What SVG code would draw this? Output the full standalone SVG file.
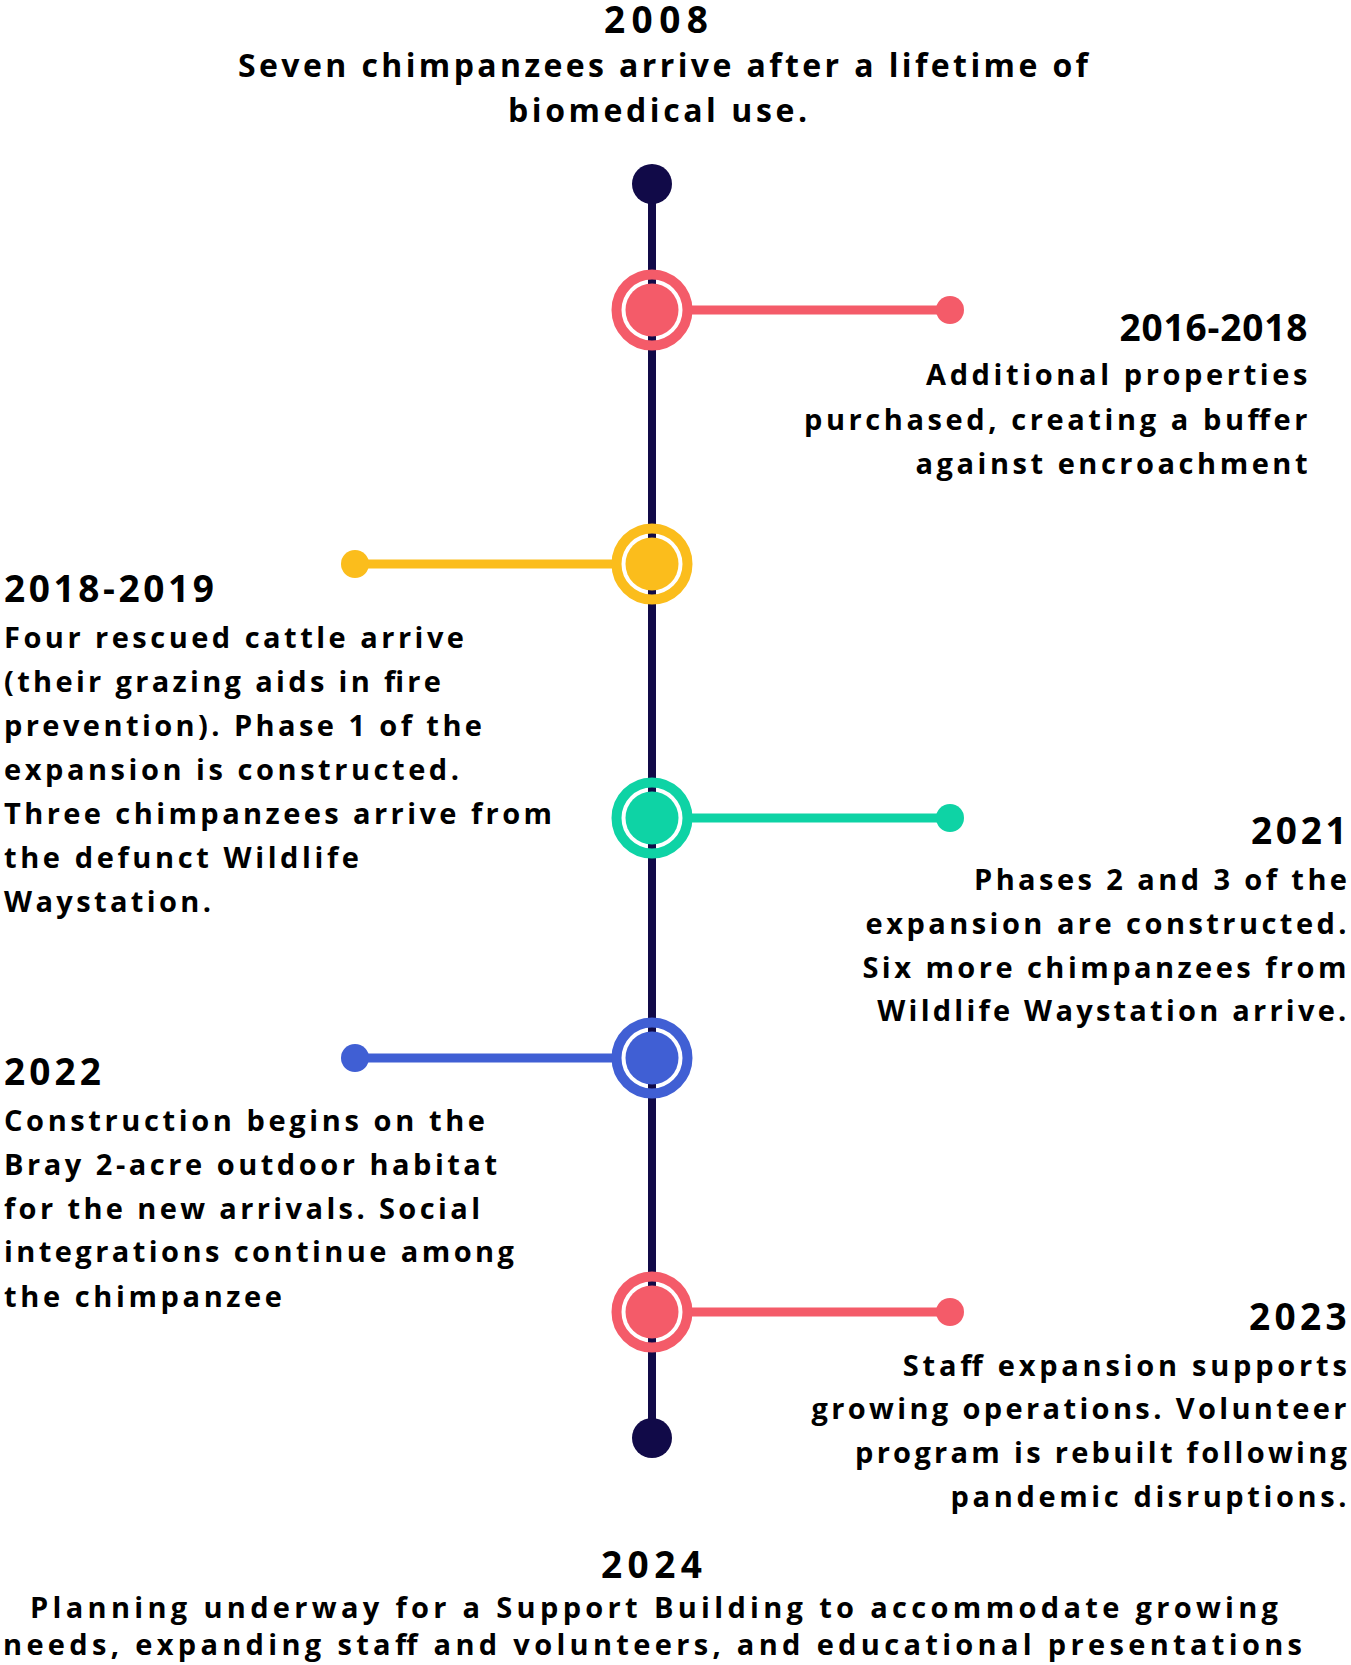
<svg xmlns="http://www.w3.org/2000/svg" width="1351" height="1665" viewBox="0 0 1351 1665">
<style>
text{font-family:"Open Sans","Liberation Sans",sans-serif;font-weight:700;fill:#000;}
.yr{font-size:37px;}
.bd{font-size:29px;}
.tb{font-size:32px;}
.ring{fill:none;stroke-width:10;}
.con{stroke-width:9;fill:none;}
</style>
<rect width="1351" height="1665" fill="#fff"/>
<g id="connectors">
<line x1="652" y1="184" x2="652" y2="1438" stroke="#110a48" stroke-width="8"/>
<line class="con" x1="690" y1="310" x2="950" y2="310" stroke="#f45b69"/>
<line class="con" x1="614" y1="564" x2="355" y2="564" stroke="#fbbd1c"/>
<line class="con" x1="690" y1="818" x2="950" y2="818" stroke="#0ed3a5"/>
<line class="con" x1="614" y1="1058" x2="355" y2="1058" stroke="#405fd4"/>
<line class="con" x1="690" y1="1312" x2="950" y2="1312" stroke="#f45b69"/>
</g>
<g id="end-top"><circle cx="652" cy="184" r="20" fill="#110a48"/></g>
<g id="end-bottom"><circle cx="652" cy="1438" r="20" fill="#110a48"/></g>
<g id="node-2008">
<text class="yr" x="604" y="33" textLength="104" lengthAdjust="spacing">2008</text>
<text class="tb" x="238" y="76.5" textLength="850" lengthAdjust="spacing">Seven chimpanzees arrive after a lifetime of</text>
<text class="tb" x="508" y="122" textLength="299" lengthAdjust="spacing">biomedical use.</text>
</g>
<g id="node-2016">
<circle class="ring" cx="652" cy="310" r="35.5" stroke="#f45b69"/>
<circle cx="652" cy="310" r="26.5" fill="#f45b69"/>
<circle cx="950" cy="310" r="14" fill="#f45b69"/>
<text class="yr" x="1119.5" y="341" textLength="188" lengthAdjust="spacing">2016-2018</text>
<text class="bd" x="926" y="385" textLength="381.5" lengthAdjust="spacing">Additional properties</text>
<text class="bd" x="804" y="430" textLength="503.5" lengthAdjust="spacing">purchased, creating a buffer</text>
<text class="bd" x="915.5" y="474" textLength="392" lengthAdjust="spacing">against encroachment</text>
</g>
<g id="node-2018">
<circle class="ring" cx="652" cy="564" r="35.5" stroke="#fbbd1c"/>
<circle cx="652" cy="564" r="26.5" fill="#fbbd1c"/>
<circle cx="355" cy="564" r="14" fill="#fbbd1c"/>
<text class="yr" x="4" y="602" textLength="210" lengthAdjust="spacing">2018-2019</text>
<text class="bd" x="4" y="648" textLength="460" lengthAdjust="spacing">Four rescued cattle arrive</text>
<text class="bd" x="4" y="692" textLength="437" lengthAdjust="spacing">(their grazing aids in fire</text>
<text class="bd" x="4" y="736" textLength="478" lengthAdjust="spacing">prevention). Phase 1 of the</text>
<text class="bd" x="4" y="780" textLength="455" lengthAdjust="spacing">expansion is constructed.</text>
<text class="bd" x="4" y="824" textLength="548" lengthAdjust="spacing">Three chimpanzees arrive from</text>
<text class="bd" x="4" y="868" textLength="355" lengthAdjust="spacing">the defunct Wildlife</text>
<text class="bd" x="4" y="912" textLength="207" lengthAdjust="spacing">Waystation.</text>
</g>
<g id="node-2021">
<circle class="ring" cx="652" cy="818" r="35.5" stroke="#0ed3a5"/>
<circle cx="652" cy="818" r="26.5" fill="#0ed3a5"/>
<circle cx="950" cy="818" r="14" fill="#0ed3a5"/>
<text class="yr" x="1251" y="844" textLength="95.7" lengthAdjust="spacing">2021</text>
<text class="bd" x="974" y="890" textLength="373" lengthAdjust="spacing">Phases 2 and 3 of the</text>
<text class="bd" x="865.6" y="934" textLength="481" lengthAdjust="spacing">expansion are constructed.</text>
<text class="bd" x="862.4" y="977.7" textLength="484" lengthAdjust="spacing">Six more chimpanzees from</text>
<text class="bd" x="877.3" y="1020.7" textLength="469" lengthAdjust="spacing">Wildlife Waystation arrive.</text>
</g>
<g id="node-2022">
<circle class="ring" cx="652" cy="1058" r="35.5" stroke="#405fd4"/>
<circle cx="652" cy="1058" r="26.5" fill="#405fd4"/>
<circle cx="355" cy="1058" r="14" fill="#405fd4"/>
<text class="yr" x="4" y="1085" textLength="97" lengthAdjust="spacing">2022</text>
<text class="bd" x="4" y="1130.7" textLength="481" lengthAdjust="spacing">Construction begins on the</text>
<text class="bd" x="4" y="1175" textLength="493" lengthAdjust="spacing">Bray 2-acre outdoor habitat</text>
<text class="bd" x="4" y="1219" textLength="476" lengthAdjust="spacing">for the new arrivals. Social</text>
<text class="bd" x="4" y="1262.3" textLength="510" lengthAdjust="spacing">integrations continue among</text>
<text class="bd" x="4" y="1306.7" textLength="278" lengthAdjust="spacing">the chimpanzee</text>
</g>
<g id="node-2023">
<circle class="ring" cx="652" cy="1312" r="35.5" stroke="#f45b69"/>
<circle cx="652" cy="1312" r="26.5" fill="#f45b69"/>
<circle cx="950" cy="1312" r="14" fill="#f45b69"/>
<text class="yr" x="1249" y="1330" textLength="97.7" lengthAdjust="spacing">2023</text>
<text class="bd" x="902.8" y="1376" textLength="444" lengthAdjust="spacing">Staff expansion supports</text>
<text class="bd" x="811.4" y="1419.3" textLength="535" lengthAdjust="spacing">growing operations. Volunteer</text>
<text class="bd" x="855" y="1463.3" textLength="492" lengthAdjust="spacing">program is rebuilt following</text>
<text class="bd" x="950.6" y="1506.7" textLength="396" lengthAdjust="spacing">pandemic disruptions.</text>
</g>
<g id="node-2024">
<text class="yr" x="601" y="1578.3" textLength="101" lengthAdjust="spacing">2024</text>
<text class="bd" x="30" y="1618" textLength="1248" lengthAdjust="spacing">Planning underway for a Support Building to accommodate growing</text>
<text class="bd" x="3" y="1655" textLength="1299" lengthAdjust="spacing">needs, expanding staff and volunteers, and educational presentations</text>
</g>
</svg>
